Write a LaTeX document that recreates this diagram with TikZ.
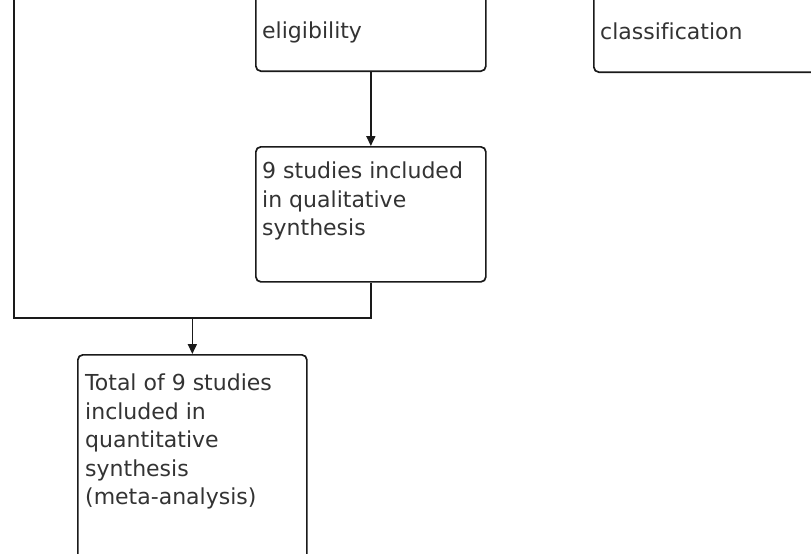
\documentclass[tikz,border=0pt]{standalone}
\usepackage{fontspec}
\setsansfont{DejaVu Sans}[Ligatures=NoCommon]
\usetikzlibrary{arrows.meta}
\definecolor{linec}{HTML}{1A1A1A}
\definecolor{textc}{HTML}{333333}
\begin{document}
\begin{tikzpicture}[x=1pt,y=-1pt,
  box/.style={draw=linec, line width=1.7pt, rounded corners=5pt, inner sep=0pt, fill=none},
  lbl/.style={align=left, inner sep=0pt, text=textc, font=\sffamily\fontsize{22}{28.5}\selectfont},
  conn/.style={draw=linec, line width=1.7pt},
  arr/.style={conn, -{Triangle[length=10pt,width=9pt]}}]
\useasboundingbox (0,0) rectangle (811,554);
\clip (0,0) rectangle (811,554);
\fill[white] (0,0) rectangle (811,554);
% boxes
\node[box, minimum width=230pt, minimum height=200pt, anchor=south west] (elig) at (255,72) {};
\node[box, minimum width=300pt, minimum height=200pt, anchor=south west] (cls) at (593,73) {};
\node[box, minimum width=230pt, minimum height=135pt, anchor=north west] (qual) at (255,146) {};
\node[box, minimum width=229pt, minimum height=300pt, anchor=north west] (quant) at (77,354) {};
% texts
\node[lbl, anchor=base west] (telig) at (262,38) {eligibility};
\node[lbl, anchor=base west] (tcls) at (600,39) {classification};
\node[lbl, anchor=north west] (tqual) at (262,162) {9 studies included\\in qualitative\\synthesis};
\node[lbl, anchor=north west] (tquant) at (85,374) {Total of 9 studies\\included in\\quantitative\\synthesis\\(meta-analysis)};
% connectors
\coordinate (ltop) at (14,-5);
\coordinate (lbot) at (14,318);
\coordinate (join) at (quant.north |- lbot);
\draw[arr] (elig.south) -- (qual.north);
\draw[conn] (qual.south) |- (lbot) -- (ltop);
\draw[arr] (join) -- (quant.north);
\end{tikzpicture}
\end{document}
